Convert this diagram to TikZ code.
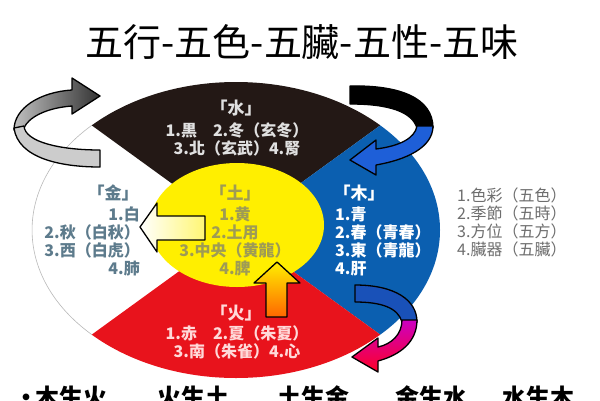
\documentclass[tikz,border=0pt]{standalone}
\usepackage{fontspec}
\setmainfont{Noto Sans CJK TC}
\usepackage{tikz}
\definecolor{shuiblack}{HTML}{231815}
\definecolor{mublue}{HTML}{0B5FB0}
\definecolor{huored}{HTML}{E8131C}
\definecolor{tuyellow}{HTML}{FFEF00}
\definecolor{jintext}{HTML}{5D7B8C}
\definecolor{tutext}{HTML}{9E9B55}
\definecolor{listgray}{HTML}{6E6E6E}
\definecolor{arrowblue}{HTML}{1E5FD8}

\begin{document}
\begin{tikzpicture}[x=1pt, y=-1pt,
    head/.style={font=\fontsize{17}{20}\selectfont\bfseries, inner sep=0pt},
    body/.style={font=\fontsize{16}{18}\selectfont\bfseries, align=center, inner sep=0pt},
    ribbon/.style={draw=black, line width=1.3pt, line join=round}]
    \useasboundingbox (0,0) rectangle (600,400);
    \fill[white] (0,0) rectangle (600,400);

    \node[font=\fontsize{38}{40}\selectfont] (title) at (302,42) {五行-五色-五臟-五性-五味};

    \begin{scope}
        \clip (236,230) ellipse [x radius=204, y radius=148];
        \fill[shuiblack] (236,230) -- (-197,-84) -- (669,-84) -- cycle;
        \fill[mublue] (236,230) -- (669,-84) -- (669,544) -- cycle;
        \fill[huored] (236,230) -- (669,544) -- (-197,544) -- cycle;
    \end{scope}
    \draw[gray!55, line width=0.6pt] (91.8,125.3) arc[start angle=-135, end angle=-225, x radius=204, y radius=148];
    \fill[tuyellow] (237,225) ellipse [x radius=87, y radius=62];

    \node[head, text=black!12] (shui) at (236,108) {「水」};
    \node[body, text=black!12] (shuitext) at (237,139) {1.黒\quad 2.冬（玄冬）\\3.北（玄武）4.腎};
    \node[head, text=jintext] (jin) at (113,193) {「金」};
    \node[body, text=jintext, align=right, anchor=east] (jintext) at (140,241) {1.白\\2.秋（白秋）\\3.西（白虎）\\4.肺};
    \node[head, text=tutext] (tu) at (235,193) {「土」};
    \node[body, text=tutext] (tutext) at (235,241) {1.黄\\2.土用\\3.中央（黄龍）\\4.脾};
    \node[head, text=white] (mu) at (359,193) {「木」};
    \node[body, text=white, align=left, anchor=west] (mutext) at (335,241) {1.青\\2.春（青春）\\3.東（青龍）\\4.肝};
    \node[head, text=red!15] (huo) at (236,313) {「火」};
    \node[body, text=red!15] (huotext) at (237,342) {1.赤\quad 2.夏（朱夏）\\3.南（朱雀）4.心};

    \foreach \t [count=\i] in {色彩（五色）, 季節（五時）, 方位（五方）, 臟器（五臟）}
        \node[font=\fontsize{16}{18}\selectfont, text=listgray, anchor=west, inner sep=0pt] (item\i) at (457,177+18*\i) {\i.\t};

    \shadedraw[ribbon, left color=white, right color=tuyellow!55] (205,216) -- (157,216) -- (157,203) -- (140,227) -- (157,252) -- (157,240) -- (205,240) -- cycle;
    \shadedraw[ribbon, top color=tuyellow, bottom color=orange!80!red] (266,317) -- (266,283) -- (254,283) -- (277,262) -- (300,283) -- (287,283) -- (287,317) -- cycle;

    \shadedraw[ribbon, left color=black!25, right color=black!80] (14,130) .. controls (14,108) and (40,92) .. (72,90) -- (72,78) -- (100,96) -- (72,114) -- (72,106) .. controls (45,108) and (28,118) .. (24,128) -- cycle;
    \filldraw[ribbon, fill=black!20] (14,128) .. controls (18,158) and (60,167) .. (100,167) -- (100,150) .. controls (60,150) and (25,142) .. (24,126) -- cycle;

    \filldraw[ribbon, fill=black] (350,86) .. controls (400,85) and (433,98) .. (433,128) -- (417,128) .. controls (412,112) and (390,104) .. (350,104) -- cycle;
    \filldraw[ribbon, fill=arrowblue] (433,126) .. controls (433,148) and (405,160) .. (376,165) -- (376,175) -- (350,160) -- (376,140) -- (376,149) .. controls (400,146) and (415,138) .. (417,126) -- cycle;

    \filldraw[ribbon, fill=arrowblue!85!black] (355,285) .. controls (395,285) and (417,300) .. (417,322) -- (402,322) .. controls (398,308) and (382,302) .. (355,302) -- cycle;
    \shadedraw[ribbon, top color=magenta!70!red!80!blue, bottom color=red!85!magenta] (417,320) .. controls (417,342) and (400,355) .. (378,361) -- (378,372) -- (352,357) -- (378,338) -- (378,347) .. controls (392,344) and (402,334) .. (402,320) -- cycle;

    \node[font=\fontsize{24}{26}\selectfont\bfseries, anchor=base, inner sep=0pt] (dot) at (26,406) {•};
    \foreach \t/\xx [count=\i] in {木生火/35, 火生土/157, 土生金/277, 金生水/395, 水生木/502}
        \node[font=\fontsize{24}{26}\selectfont\bfseries, anchor=base west, inner sep=0pt] (sheng\i) at (\xx,406) {\t};
\end{tikzpicture}
\end{document}
